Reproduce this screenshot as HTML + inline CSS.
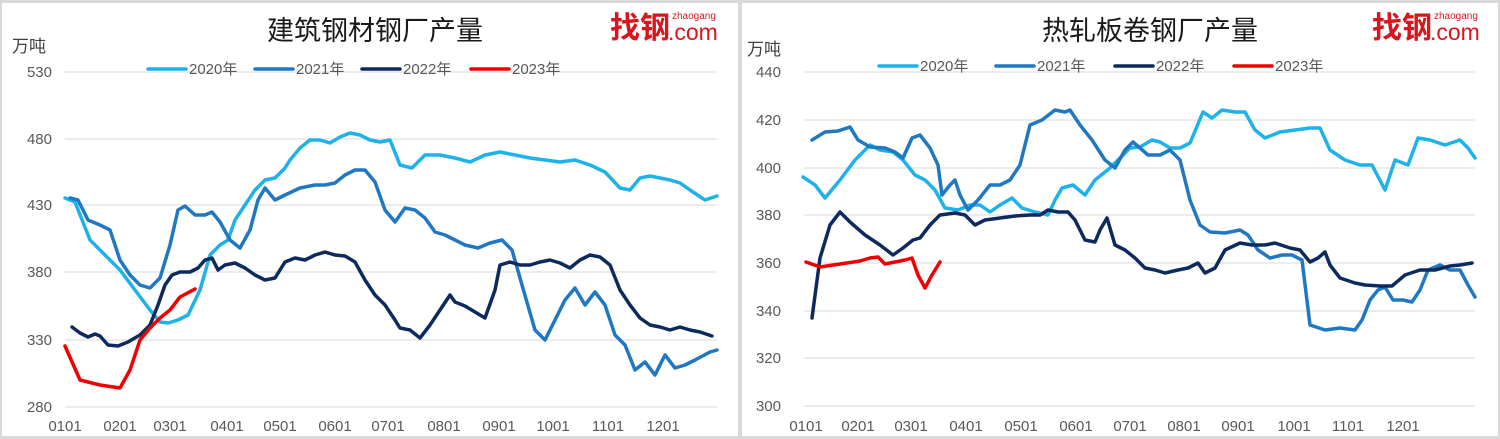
<!DOCTYPE html>
<html><head><meta charset="utf-8"><style>
html,body{margin:0;padding:0;background:#d9d9d9;}
svg{display:block;font-family:"Liberation Sans","Noto Sans CJK SC",sans-serif;}
.t{font-size:15px;fill:#595959}
.g{stroke:#d9d9d9;stroke-width:1}
.l{fill:none;stroke-width:3.5;stroke-linejoin:round;stroke-linecap:round}
.c0{stroke:#1fb1ea}.c1{stroke:#1f78c1}.c2{stroke:#0d2a5e}.c3{stroke:#f00000}
</style></head><body>
<svg width="1500" height="439" viewBox="0 0 1500 439">
<rect width="1500" height="439" fill="#d9d9d9"/>
<rect x="2" y="3" width="736" height="433" fill="#fff"/>
<rect x="742" y="3" width="756" height="433" fill="#fff"/>

<!-- LEFT -->
<text x="375" y="40" font-size="27" text-anchor="middle" fill="#1a1a1a">建筑钢材钢厂产量</text>
<text x="610" y="38" font-size="30" font-weight="bold" fill="#d7161e">找钢</text>
<text x="672" y="19" font-size="10" fill="#d7161e">zhaogang</text>
<text x="668" y="40" font-size="23" fill="#d7161e">.com</text>
<text x="12" y="52" font-size="17" fill="#404040">万吨</text>
<g class="t" text-anchor="end">
<text x="52" y="77">530</text><text x="52" y="144">480</text><text x="52" y="210">430</text><text x="52" y="277">380</text><text x="52" y="345">330</text><text x="52" y="412">280</text>
</g>
<g class="g"><line x1="65" y1="72" x2="717" y2="72"/><line x1="65" y1="139" x2="717" y2="139"/><line x1="65" y1="205" x2="717" y2="205"/><line x1="65" y1="272" x2="717" y2="272"/><line x1="65" y1="340" x2="717" y2="340"/><line x1="65" y1="407" x2="717" y2="407"/></g>
<g class="t" text-anchor="middle">
<text x="65" y="431">0101</text><text x="120" y="431">0201</text><text x="170" y="431">0301</text><text x="227" y="431">0401</text><text x="280" y="431">0501</text><text x="335" y="431">0601</text><text x="388" y="431">0701</text><text x="444" y="431">0801</text><text x="499" y="431">0901</text><text x="553" y="431">1001</text><text x="608" y="431">1101</text><text x="663" y="431">1201</text>
</g>
<g>
<line class="l c0" x1="148" y1="69" x2="186" y2="69"/><text class="t" x="189" y="74">2020年</text>
<line class="l c1" x1="255" y1="69" x2="293" y2="69"/><text class="t" x="296" y="74">2021年</text>
<line class="l c2" x1="362" y1="69" x2="400" y2="69"/><text class="t" x="403" y="74">2022年</text>
<line class="l c3" x1="471" y1="69" x2="509" y2="69"/><text class="t" x="512" y="74">2023年</text>
</g>
<polyline class="l c0" points="65,198 75,202 90,240 105,255 120,270 135,290 150,310 160,322 168,323 178,320 188,315 200,290 210,255 220,245 228,240 235,220 245,205 255,190 265,180 275,178 285,168 290,160 300,148 310,140 320,140 330,143 340,137 350,133 360,135 370,140 380,142 390,140 400,165 412,168 425,155 440,155 455,158 470,162 485,155 500,152 515,155 530,158 545,160 560,162 575,160 590,165 605,172 620,188 630,190 640,178 650,176 660,178 670,180 680,183 690,190 705,200 717,196"/>
<polyline class="l c1" points="70,198 78,200 88,220 100,225 110,230 120,260 130,275 140,285 150,288 160,278 170,245 178,210 185,206 195,215 205,215 212,212 220,222 230,240 240,248 250,230 258,200 265,188 275,200 285,195 300,188 315,185 325,185 335,183 345,175 355,170 365,170 375,182 385,210 395,222 405,208 415,210 425,218 435,232 445,235 455,240 465,245 478,248 490,243 502,240 512,250 522,285 535,330 545,340 555,320 565,300 575,288 585,305 595,292 605,305 615,335 625,345 635,370 645,362 655,375 665,355 675,368 685,365 695,360 710,352 717,350"/>
<polyline class="l c2" points="72,327 80,333 88,337 95,334 100,336 108,345 118,346 128,342 140,335 150,325 158,305 165,285 172,275 180,272 190,272 198,268 205,260 212,258 218,270 225,265 235,263 245,268 255,275 265,280 275,278 285,262 295,258 305,260 315,255 325,252 335,255 345,256 355,262 365,280 375,295 385,305 395,320 400,328 410,330 420,338 430,325 440,310 450,295 455,302 465,306 475,312 485,318 495,290 500,265 510,262 520,265 530,265 540,262 550,260 560,263 570,268 580,260 590,255 600,257 610,265 620,290 630,305 640,318 650,325 660,327 670,330 680,327 690,330 700,332 712,336"/>
<polyline class="l c3" points="65,346 80,380 100,385 120,388 130,370 140,340 150,328 160,318 170,310 180,297 195,289"/>

<!-- RIGHT -->
<text x="1150" y="40" font-size="27" text-anchor="middle" fill="#1a1a1a">热轧板卷钢厂产量</text>
<text x="1372" y="38" font-size="30" font-weight="bold" fill="#d7161e">找钢</text>
<text x="1434" y="19" font-size="10" fill="#d7161e">zhaogang</text>
<text x="1430" y="40" font-size="23" fill="#d7161e">.com</text>
<text x="747" y="55" font-size="17" fill="#404040">万吨</text>
<g class="t" text-anchor="end">
<text x="781" y="77">440</text><text x="781" y="125">420</text><text x="781" y="173">400</text><text x="781" y="220">380</text><text x="781" y="268">360</text><text x="781" y="316">340</text><text x="781" y="363">320</text><text x="781" y="411">300</text>
</g>
<g class="g"><line x1="804" y1="72" x2="1475" y2="72"/><line x1="804" y1="120" x2="1475" y2="120"/><line x1="804" y1="168" x2="1475" y2="168"/><line x1="804" y1="215" x2="1475" y2="215"/><line x1="804" y1="263" x2="1475" y2="263"/><line x1="804" y1="311" x2="1475" y2="311"/><line x1="804" y1="358" x2="1475" y2="358"/><line x1="804" y1="406" x2="1475" y2="406"/></g>
<g class="t" text-anchor="middle">
<text x="806" y="431">0101</text><text x="858" y="431">0201</text><text x="911" y="431">0301</text><text x="966" y="431">0401</text><text x="1021" y="431">0501</text><text x="1076" y="431">0601</text><text x="1130" y="431">0701</text><text x="1184" y="431">0801</text><text x="1238" y="431">0901</text><text x="1294" y="431">1001</text><text x="1348" y="431">1101</text><text x="1403" y="431">1201</text>
</g>
<g>
<line class="l c0" x1="879" y1="66" x2="917" y2="66"/><text class="t" x="920" y="71">2020年</text>
<line class="l c1" x1="996" y1="66" x2="1034" y2="66"/><text class="t" x="1037" y="71">2021年</text>
<line class="l c2" x1="1115" y1="66" x2="1153" y2="66"/><text class="t" x="1156" y="71">2022年</text>
<line class="l c3" x1="1234" y1="66" x2="1272" y2="66"/><text class="t" x="1275" y="71">2023年</text>
</g>
<polyline class="l c0" points="803,177 815,185 825,198 840,180 855,160 870,145 880,150 893,152 903,160 915,175 925,180 935,190 945,208 958,210 970,205 980,205 990,212 1000,205 1012,198 1022,208 1035,212 1048,215 1055,200 1062,188 1073,185 1085,195 1095,180 1110,168 1120,158 1130,148 1140,147 1152,140 1160,142 1170,148 1180,148 1190,143 1203,112 1212,118 1222,110 1235,112 1245,112 1255,130 1265,138 1280,132 1295,130 1310,128 1320,128 1330,150 1345,160 1360,165 1372,165 1385,190 1395,160 1408,165 1418,138 1430,140 1445,145 1460,140 1468,148 1475,158"/>
<polyline class="l c1" points="812,140 825,132 838,131 850,127 858,140 870,147 885,148 895,152 903,158 912,138 920,135 930,148 938,165 942,195 950,185 955,180 960,195 968,210 978,200 990,185 1000,185 1010,180 1020,165 1030,125 1042,120 1055,110 1065,112 1070,110 1080,125 1092,140 1105,160 1115,168 1125,150 1133,142 1140,148 1148,155 1160,155 1170,150 1180,160 1190,200 1200,225 1210,232 1225,233 1240,230 1248,235 1258,250 1270,258 1282,255 1292,255 1302,260 1310,325 1325,330 1340,328 1355,330 1362,320 1370,300 1378,290 1385,287 1393,300 1403,300 1412,302 1420,290 1428,270 1440,265 1450,270 1460,270 1468,285 1475,297"/>
<polyline class="l c2" points="812,318 820,258 830,225 840,212 850,222 865,235 880,245 893,255 903,248 913,240 920,238 930,225 940,215 955,213 965,215 975,225 985,220 1000,218 1015,216 1030,215 1040,215 1048,210 1058,212 1068,212 1075,220 1085,240 1095,242 1100,230 1107,218 1115,245 1125,250 1135,258 1145,268 1155,270 1165,273 1178,270 1188,268 1198,263 1205,273 1215,268 1225,250 1240,243 1252,245 1265,245 1275,243 1290,248 1300,250 1310,262 1318,258 1325,252 1330,265 1340,278 1355,283 1365,285 1380,286 1392,286 1405,275 1420,270 1435,270 1450,266 1460,265 1472,263"/>
<polyline class="l c3" points="806,262 820,267 840,264 860,261 870,258 878,257 885,264 895,262 905,260 912,258 918,275 925,288 932,275 940,262"/>
</svg>
</body></html>
